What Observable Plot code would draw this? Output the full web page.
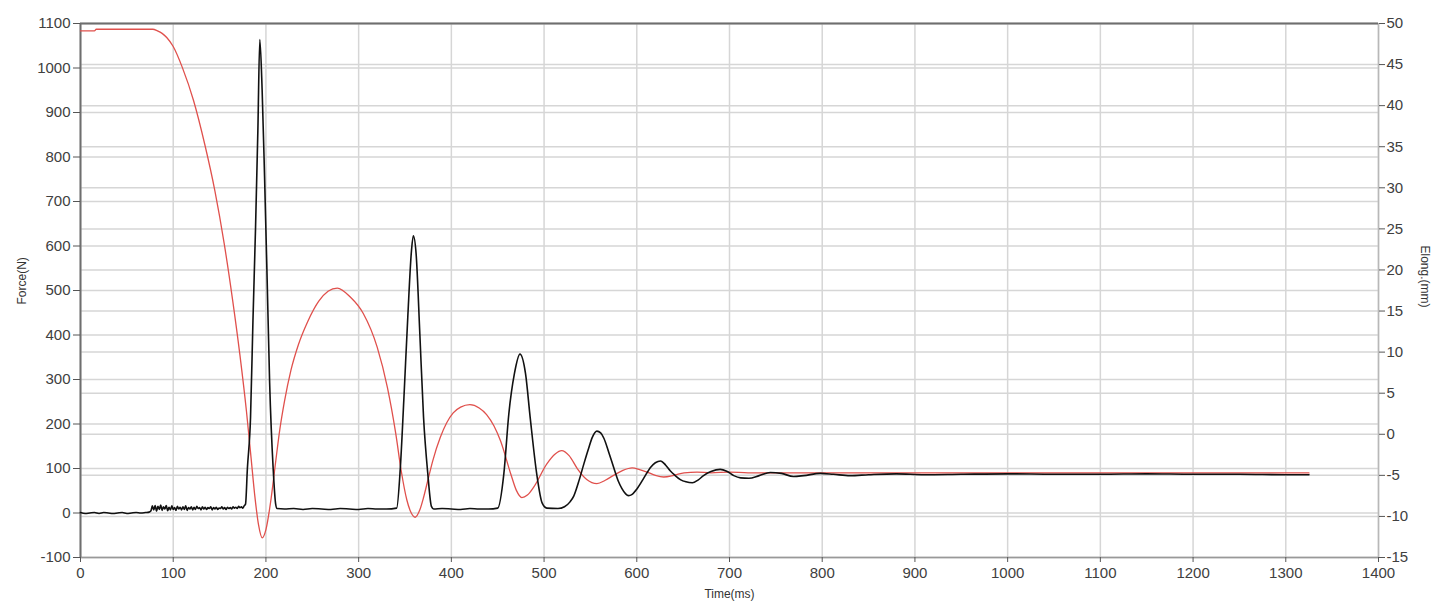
<!DOCTYPE html>
<html><head><meta charset="utf-8">
<script src="https://cdn.jsdelivr.net/npm/d3@7"></script>
<script src="https://cdn.jsdelivr.net/npm/@observablehq/plot@0.6"></script>
<style>body{margin:0;background:#fff;}</style>
</head><body><div id="chart"></div>
<script>
// Force (N), black, left axis: [time ms, force N]
const forcePoints = [
  [0,1],[5,-1],[10,0],[15,1],[20,-1],[25,1],[30,0],[35,-1],[40,0],[45,1],[50,-1],[55,0],[60,1],[65,0],[70,1],[74,2],
  [76,5],[77.5,16],[79,7],[80.5,17],[82,4],[83.5,15],[85,8],[86.5,18],[88,6],[89.5,14],[91,9],[92.5,17],[94,5],[95.5,13],
  [97,7],[98.5,16],[100,8],[101.5,12],[103,6],[104.5,15],[106,9],[107.5,13],[109,7],[110.5,14],[112,8],[113.5,16],
  [115,6],[116.5,12],[118,9],[119.5,14],[121,7],[122.5,13],[124,8],[125.5,15],[127,10],[128.5,12],[130,7],[131.5,14],
  [133,9],[134.5,13],[136,8],[137.5,12],[139,10],[140.5,14],[142,7],[143.5,12],[145,9],[146.5,13],[148,8],[149.5,11],
  [151,10],[152.5,14],[154,9],[155.5,12],[157,8],[158.5,13],[160,10],[161.5,12],[163,9],[164.5,14],[166,11],[167.5,13],
  [169,10],[170.5,15],[172,12],[173.5,14],[175,11],[176.5,16],[178,20],
  [180,100],[183.4,215],[186,432],[188.8,641],[191.3,859],[193.4,1064],[195.9,951],[198.5,758],[201.3,526],[204,293],
  [207.8,100],[210.5,20],[212,10],[220,9],[230,10],[240,8],[250,10],[260,9],[270,8],[280,10],[290,9],[300,8],[310,10],
  [320,9],[330,9],[341,11],[345,103],[348.7,253],[353,440],[357,590],[359,623],[362,582],[366,403],[370,215],[374.6,88],
  [378.5,15],[381,9],[390,10],[400,9],[410,8],[420,10],[430,9],[440,9],[450,11],[456.6,88],[462,223],[468,313],[474,357],
  [480,313],[485,215],[492,89],[498,22],[503,11],[515,10],[522,14],[528,25],[532,38],[538,75],[543,111],[548,145],
  [552,170],[557,184],[561,180],[564.5,168],[570,135],[575,103],[580,72],[584,55],[588,43],[591,39],[595,42],[600.5,55],
  [608,80],[615,103],[620,113],[625.6,117],[631,108],[636,95],[641,85],[647,75],[653,70],[660,68],[666,74],[672,84],
  [680,93],[690,98],[697,94],[704.6,84],[712,79],[721,78],[732,84],[744,91],[756,89],[769,82],[780,84],[798,89],[812,87],
  [830,84],[850,86],[880,88],[910,86],[950,87],[1000,88],[1050,87],[1100,87],[1150,88],[1200,87],[1250,87],[1300,86],[1325,86]
];
// Elong. (mm), red, right axis
const elongTime = [0,15,17,78,83,88,93,100,110,122,134,145,155,164,172,179,184,188,192,196,200,205,210,215,220,227,235,245,257,267,277,291,305,320,331,340,346,352,356,361,366,370,374,380,388,395,402,410,420,430,438,446,453,464,470,476,482,489,503,512,519,527,536,546,557,566,575,585,595,603,611,620,629,640,651,665,680,700,720,760,800,900,1000,1100,1200,1325];
const elongValues = [49.1,49.1,49.3,49.3,49.1,48.8,48.3,47.2,44.6,40.6,35.3,29.6,23.2,16.4,9.6,2.8,-2.9,-7.5,-11.0,-12.6,-11.6,-8.3,-3.8,0.6,4.0,7.8,10.9,13.7,16.2,17.4,17.8,16.7,14.7,10.6,5.7,0.1,-4.5,-8.0,-9.4,-10.1,-9.2,-7.7,-5.9,-3.2,-0.4,1.4,2.6,3.3,3.6,3.2,2.4,1.0,-0.8,-4.8,-6.8,-7.7,-7.4,-6.4,-3.6,-2.4,-2.0,-2.6,-4.2,-5.5,-6.0,-5.6,-5.0,-4.4,-4.1,-4.3,-4.6,-5.0,-5.2,-5.0,-4.7,-4.6,-4.7,-4.6,-4.7,-4.7,-4.7,-4.7,-4.7,-4.7,-4.7,-4.7];

const timeTicks = [0,100,200,300,400,500,600,700,800,900,1000,1100,1200,1300,1400];
const forceTicks = [-100,0,100,200,300,400,500,600,700,800,900,1000,1100];
const elongTicks = [-15,-10,-5,0,5,10,15,20,25,30,35,40,45,50];

const F0 = -100, F1 = 1100, E0 = -15, E1 = 50;
const eToF = e => F0 + (e - E0) * (F1 - F0) / (E1 - E0);
const fToE = f => E0 + (f - F0) * (E1 - E0) / (F1 - F0);

const force = forcePoints.map(([t, v]) => ({t, v}));
const elong = elongTime.map((t, i) => ({t, v: elongValues[i]}));
const gridStyle = {stroke: "#d6d6d6", strokeOpacity: 1, strokeWidth: 1.5};

const chart = Plot.plot({
  width: 1445,
  height: 608,
  marginLeft: 80,
  marginRight: 67,
  marginTop: 23,
  marginBottom: 51,
  style: {fontFamily: "'Liberation Sans', Arial, sans-serif", fontSize: "15px", color: "#404040", background: "#fff", overflow: "visible"},
  x: {type: "linear", domain: [0, 1400]},
  y: {type: "linear", domain: [F0, F1]},
  marks: [
    Plot.gridX(timeTicks, gridStyle),
    Plot.gridY(forceTicks, gridStyle),
    Plot.gridY(elongTicks.map(eToF), gridStyle),
    Plot.ruleY([F0], {stroke: "#999", strokeWidth: 1.5}),
    Plot.ruleX([1400], {stroke: "#b8b8b8", strokeWidth: 1.5}),
    Plot.ruleY([F1], {stroke: "#6e6e6e", strokeWidth: 2}),
    Plot.ruleX([0], {stroke: "#6e6e6e", strokeWidth: 2}),
    Plot.axisX(timeTicks, {anchor: "bottom", tickSize: 5, tickPadding: 5, tickFormat: d => String(d), label: null, stroke: "#555"}),
    Plot.axisY(forceTicks, {anchor: "left", tickSize: 7, tickPadding: 3, tickFormat: d => String(d), label: null, stroke: "#555"}),
    Plot.axisY(elongTicks.map(eToF), {anchor: "right", tickSize: 6, tickPadding: 2, tickFormat: d => String(Math.round(fToE(d))), label: null, stroke: "#555"}),
    Plot.line(elong, {x: "t", y: d => eToF(d.v), stroke: "#e0504c", strokeWidth: 1.3, curve: "monotone-x"}),
    Plot.line(force, {x: "t", y: "v", stroke: "#111", strokeWidth: 1.6, curve: "monotone-x"}),
    Plot.text(["Force(N)"], {frameAnchor: "left", dx: -58, dy: 14, rotate: -90, fontSize: 12, fill: "#333"}),
    Plot.text(["Time(ms)"], {frameAnchor: "bottom", dy: 40, fontSize: 12, fill: "#333"}),
    Plot.text(["Elong.(mm)"], {frameAnchor: "right", dx: 46, dy: 17, rotate: 90, fontSize: 12, fill: "#333"})
  ]
});
document.getElementById("chart").appendChild(chart);
</script>
</body></html>
